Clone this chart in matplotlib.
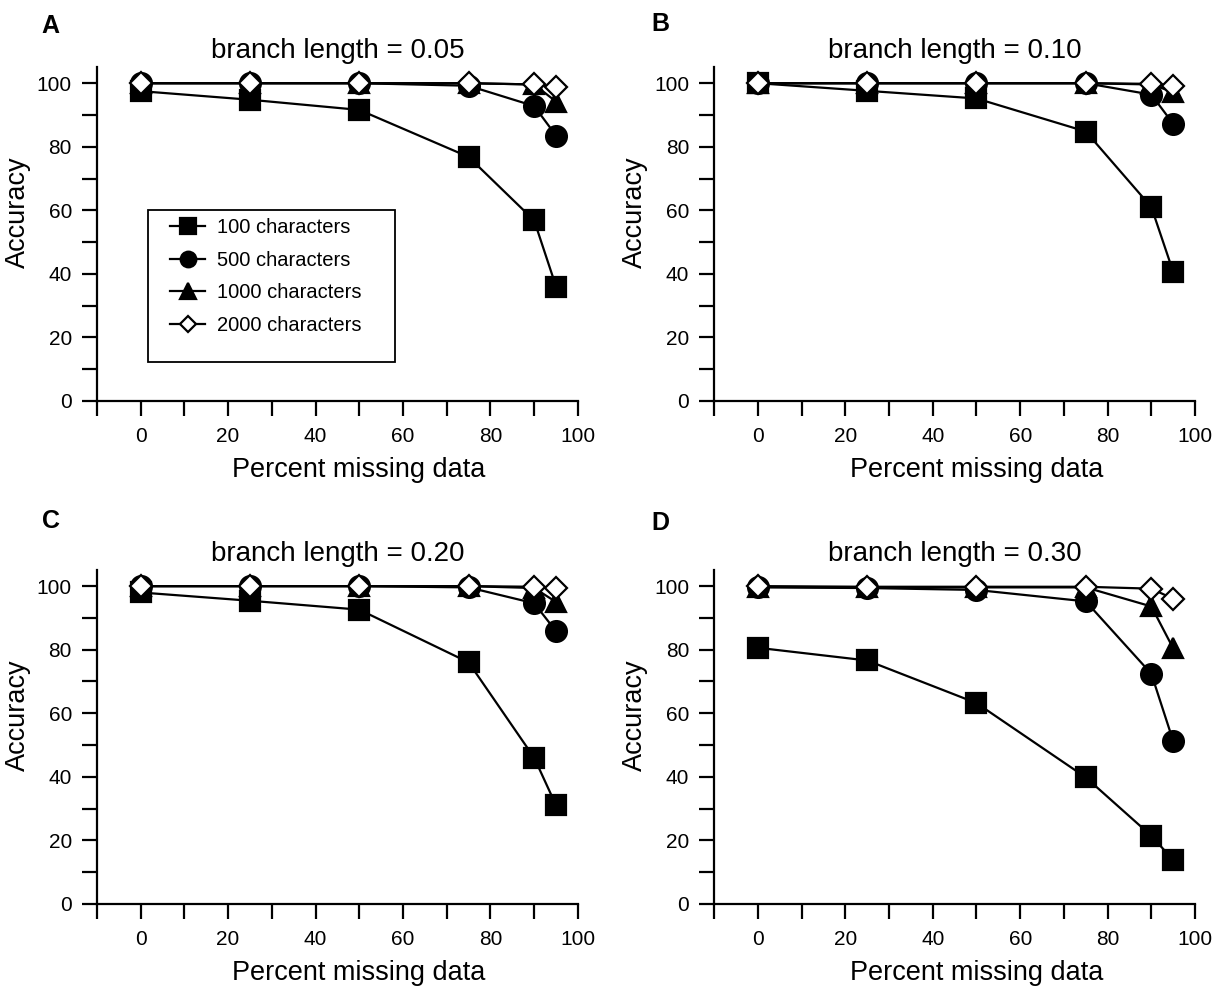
import matplotlib
matplotlib.use("Agg")
import matplotlib.pyplot as plt
from matplotlib.patches import Rectangle
from matplotlib.ticker import MultipleLocator, FuncFormatter

plt.rcParams['font.family'] = ['Liberation Sans', 'DejaVu Sans']

# percent missing data
x = [0, 25, 50, 75, 90, 95]

labels = ['100 characters', '500 characters', '1000 characters', '2000 characters']
panels = ['A', 'B', 'C', 'D']
branch = ['0.05', '0.10', '0.20', '0.30']

# accuracy per panel, per character count
acc_a_100 = [97.5, 94.8, 91.6, 76.8, 56.8, 36.0]
acc_a_500 = [100, 100, 100, 99.2, 92.8, 83.5]
acc_a_1000 = [100, 100, 100, 100, 99.6, 94.2]
acc_a_2000 = [100, 100, 100, 100, 99.6, 98.8]

acc_b_100 = [100, 97.6, 95.2, 84.8, 61.0, 40.6]
acc_b_500 = [100, 100, 100, 100, 96.4, 87.2]
acc_b_1000 = [100, 100, 100, 100, 99.6, 97.2]
acc_b_2000 = [100, 100, 100, 100, 99.8, 99.2]

acc_c_100 = [98.0, 95.4, 92.6, 76.0, 46.0, 31.0]
acc_c_500 = [100, 100, 100, 99.6, 94.6, 85.8]
acc_c_1000 = [100, 100, 100, 100, 99.4, 95.0]
acc_c_2000 = [100, 100, 100, 100, 99.8, 99.4]

acc_d_100 = [80.6, 76.6, 63.2, 39.8, 21.4, 13.8]
acc_d_500 = [99.6, 99.4, 98.8, 95.2, 72.4, 51.2]
acc_d_1000 = [99.8, 99.6, 99.6, 99.6, 93.6, 80.4]
acc_d_2000 = [100, 99.8, 99.8, 99.8, 99.2, 96.0]

data = [
    [acc_a_100, acc_a_500, acc_a_1000, acc_a_2000],
    [acc_b_100, acc_b_500, acc_b_1000, acc_b_2000],
    [acc_c_100, acc_c_500, acc_c_1000, acc_c_2000],
    [acc_d_100, acc_d_500, acc_d_1000, acc_d_2000],
]

markers = ['s', 'o', '^', 'D']
msizes = [15, 15, 15, 11.5]
faces = ['black', 'black', 'black', 'white']

fig = plt.figure(figsize=(12.27, 9.9), dpi=100)

# axes boxes (left, bottom) in figure fractions
boxes = [(0.079, 0.595), (0.582, 0.595), (0.079, 0.087), (0.582, 0.087)]
letter_pos = [(0.034, 0.967), (0.531, 0.969), (0.034, 0.467), (0.531, 0.465)]

for p in range(4):
    ax = fig.add_axes([boxes[p][0], boxes[p][1], 0.392, 0.337])
    for i in range(4):
        ax.plot(x, data[p][i], color='black', lw=1.6, marker=markers[i],
                ms=msizes[i], mfc=faces[i], mec='black', mew=1.6,
                label=labels[i], clip_on=False, zorder=3 + i)

    ax.set_xlim(-10, 100)
    ax.set_ylim(0, 105)
    ax.spines['top'].set_visible(False)
    ax.spines['right'].set_visible(False)
    for s in ['left', 'bottom']:
        ax.spines[s].set_linewidth(1.6)
    ax.xaxis.set_major_locator(MultipleLocator(10))
    ax.yaxis.set_major_locator(MultipleLocator(10))
    ax.xaxis.set_major_formatter(FuncFormatter(
        lambda v, pos: '%d' % v if v >= 0 and round(v) % 20 == 0 else ''))
    ax.yaxis.set_major_formatter(FuncFormatter(
        lambda v, pos: '%d' % v if round(v) % 20 == 0 else ''))
    ax.tick_params(direction='out', length=11, width=1.6, labelsize=15)
    ax.tick_params(axis='x', pad=8)
    ax.tick_params(axis='y', pad=7)

    # x label is centred under the 0-100 range, not the whole axis
    ax.set_xlabel('Percent missing data', fontsize=19.5)
    ax.xaxis.set_label_coords(0.545, -0.168)
    ax.set_ylabel('Accuracy', fontsize=19.5)
    ax.yaxis.set_label_coords(-0.137, 0.567)
    ax.set_title('branch length = ' + branch[p], fontsize=20, pad=7)

    fig.text(letter_pos[p][0], letter_pos[p][1], panels[p], fontsize=18,
             fontweight='bold', ha='left', va='baseline')

    if p == 0:
        leg = ax.legend(loc='upper left', bbox_to_anchor=(0.152, 0.548),
                        borderaxespad=0, borderpad=0, fontsize=14.5,
                        frameon=False, handlelength=1.75, labelspacing=0.67,
                        handletextpad=0.6, markerscale=0.75)
        ax.add_patch(Rectangle((0.106, 0.117), 0.514, 0.455,
                               transform=ax.transAxes, fill=False,
                               edgecolor='black', lw=1.3, zorder=2))

fig.savefig('out.png', dpi=100)
